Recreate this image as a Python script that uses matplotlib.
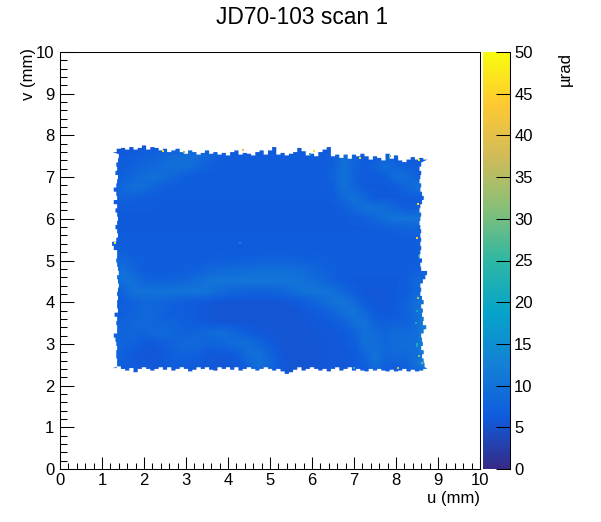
import numpy as np
import matplotlib
matplotlib.use('Agg')
import matplotlib.pyplot as plt
from matplotlib.colors import LinearSegmentedColormap
from matplotlib.patches import Polygon

plt.rcParams['font.family'] = ['Liberation Sans', 'DejaVu Sans']

# ROOT kBird palette
bird_colors = [(0.2082, 0.1664, 0.5293), (0.0592, 0.3599, 0.8684), (0.0780, 0.5041, 0.8385),
               (0.0232, 0.6419, 0.7914), (0.1802, 0.7178, 0.6425), (0.5301, 0.7492, 0.4662),
               (0.8186, 0.7328, 0.3499), (0.9956, 0.7862, 0.1968), (0.9764, 0.9832, 0.0539)]
bird = LinearSegmentedColormap.from_list('bird', bird_colors, N=255)

# Map values, in tenths of a urad
# rows run from v=7.75 down to v=2.25, columns from u=1.25 to u=8.75, 0.25 mm apart
scan_u = [1.25 + 0.25 * i for i in range(31)]
scan_v = [7.75 - 0.25 * i for i in range(23)]
scan_tenths = [
    [54, 54, 54, 54, 54, 54, 54, 56, 56, 56, 56, 56, 56, 56, 56, 56, 56, 56, 56, 56, 56, 56, 56, 56, 56, 56, 56, 56, 56, 56, 56],
    [60, 62, 68, 72, 76, 82, 90, 96, 94, 82, 68, 64, 64, 64, 64, 64, 64, 64, 64, 64, 64, 68, 94, 80, 66, 66, 66, 62, 60, 60, 60],
    [62, 68, 72, 78, 86, 92, 98, 96, 84, 74, 68, 65, 65, 65, 65, 65, 65, 65, 65, 65, 65, 72, 100, 78, 66, 76, 94, 78, 70, 66, 64],
    [62, 72, 82, 92, 98, 92, 80, 70, 66, 64, 64, 64, 64, 64, 64, 64, 64, 64, 64, 64, 64, 76, 100, 74, 64, 64, 70, 94, 90, 74, 66],
    [62, 84, 96, 92, 80, 70, 66, 64, 64, 64, 64, 64, 64, 64, 64, 64, 64, 64, 64, 64, 64, 70, 100, 80, 62, 62, 62, 66, 84, 96, 82],
    [62, 76, 72, 66, 64, 63, 63, 63, 63, 63, 63, 63, 63, 63, 63, 63, 63, 63, 63, 63, 63, 64, 84, 100, 80, 62, 62, 62, 62, 66, 66],
    [60, 64, 64, 63, 63, 62, 62, 62, 62, 62, 62, 62, 62, 62, 62, 62, 62, 62, 62, 62, 62, 62, 68, 86, 100, 100, 92, 78, 68, 68, 68],
    [60, 62, 62, 62, 62, 62, 62, 62, 62, 62, 62, 62, 62, 62, 62, 62, 62, 62, 62, 62, 62, 62, 62, 65, 72, 84, 98, 104, 104, 104, 90],
    [62, 62, 62, 62, 62, 62, 62, 62, 62, 62, 62, 62, 62, 62, 62, 62, 62, 62, 62, 62, 62, 62, 62, 62, 62, 65, 68, 72, 76, 78, 74],
    [64, 65, 65, 65, 65, 65, 65, 65, 65, 65, 65, 65, 65, 65, 65, 65, 65, 65, 65, 65, 65, 65, 65, 65, 65, 65, 65, 65, 66, 68, 68],
    [68, 68, 66, 66, 66, 66, 66, 66, 66, 66, 66, 66, 66, 66, 66, 66, 66, 66, 66, 66, 66, 66, 66, 66, 66, 66, 66, 66, 66, 68, 68],
    [78, 82, 72, 66, 66, 66, 66, 66, 66, 66, 68, 70, 70, 72, 74, 74, 74, 74, 72, 70, 68, 66, 66, 66, 66, 66, 66, 66, 66, 68, 68],
    [84, 100, 80, 68, 66, 66, 66, 68, 72, 80, 86, 90, 92, 94, 96, 98, 98, 96, 92, 84, 76, 70, 66, 65, 64, 64, 64, 64, 66, 70, 72],
    [68, 100, 98, 80, 74, 74, 78, 84, 92, 100, 104, 104, 106, 106, 106, 106, 106, 104, 100, 94, 84, 72, 66, 62, 62, 62, 62, 62, 66, 86, 80],
    [62, 78, 100, 104, 104, 104, 104, 104, 106, 102, 92, 84, 78, 76, 76, 76, 80, 90, 100, 104, 104, 98, 82, 66, 60, 60, 60, 62, 66, 84, 88],
    [60, 66, 76, 82, 82, 78, 72, 68, 64, 60, 57, 56, 56, 56, 56, 56, 57, 60, 66, 76, 90, 102, 104, 88, 64, 60, 60, 64, 76, 96, 104],
    [64, 68, 74, 84, 84, 72, 68, 66, 62, 58, 56, 56, 55, 55, 55, 55, 55, 56, 58, 62, 68, 78, 98, 104, 84, 64, 60, 64, 74, 96, 120],
    [70, 74, 80, 84, 82, 76, 76, 70, 64, 60, 58, 56, 56, 56, 56, 56, 56, 56, 56, 58, 60, 64, 74, 96, 100, 76, 68, 74, 74, 92, 130],
    [74, 76, 82, 76, 84, 90, 80, 74, 78, 88, 94, 90, 78, 66, 60, 58, 56, 56, 56, 56, 58, 60, 62, 74, 100, 90, 82, 92, 88, 96, 140],
    [76, 78, 72, 62, 62, 68, 78, 88, 88, 76, 80, 86, 96, 94, 78, 64, 57, 55, 55, 56, 58, 60, 62, 66, 98, 92, 84, 94, 94, 96, 150],
    [76, 72, 62, 57, 57, 62, 72, 76, 70, 62, 60, 60, 68, 94, 98, 76, 58, 55, 55, 55, 58, 58, 60, 62, 80, 102, 84, 88, 86, 96, 110],
    [68, 70, 64, 60, 60, 64, 70, 66, 62, 60, 57, 57, 60, 78, 100, 86, 62, 56, 56, 56, 58, 60, 60, 62, 70, 100, 72, 72, 76, 100, 130],
    [58, 58, 58, 58, 58, 58, 58, 58, 58, 58, 58, 58, 58, 58, 62, 62, 58, 56, 56, 56, 58, 58, 58, 58, 58, 62, 58, 58, 58, 62, 70],
]

# Outline of the scanned area, one reading per 0.1 mm
edge_u = [1.3 + 0.1 * i for i in range(75)]
edge_v = [2.4 + 0.1 * i for i in range(54)]
top_edge = [7.60, 7.68, 7.70, 7.66, 7.72, 7.66, 7.70, 7.76, 7.66, 7.72, 7.70, 7.64, 7.68, 7.60, 7.64, 7.68,
            7.60, 7.56, 7.64, 7.60, 7.54, 7.58, 7.64, 7.56, 7.60, 7.54, 7.58, 7.52, 7.60, 7.64, 7.54, 7.58,
            7.56, 7.52, 7.60, 7.64, 7.54, 7.64, 7.72, 7.54, 7.58, 7.52, 7.56, 7.60, 7.70, 7.62, 7.52, 7.56,
            7.50, 7.60, 7.66, 7.72, 7.50, 7.54, 7.46, 7.54, 7.44, 7.54, 7.50, 7.56, 7.50, 7.42, 7.50, 7.46,
            7.40, 7.56, 7.44, 7.52, 7.40, 7.36, 7.42, 7.48, 7.42, 7.46, 7.42]
bottom_edge = [2.42, 2.46, 2.40, 2.36, 2.42, 2.32, 2.40, 2.44, 2.40, 2.36, 2.40, 2.44, 2.38, 2.44, 2.36, 2.40,
               2.44, 2.40, 2.34, 2.38, 2.44, 2.40, 2.44, 2.38, 2.36, 2.44, 2.40, 2.44, 2.38, 2.44, 2.36, 2.40,
               2.44, 2.40, 2.36, 2.40, 2.44, 2.40, 2.36, 2.40, 2.34, 2.28, 2.32, 2.38, 2.44, 2.36, 2.40, 2.44,
               2.40, 2.36, 2.40, 2.34, 2.40, 2.44, 2.36, 2.40, 2.44, 2.36, 2.40, 2.36, 2.34, 2.40, 2.36, 2.40,
               2.36, 2.34, 2.38, 2.34, 2.36, 2.40, 2.34, 2.38, 2.34, 2.36, 2.40]
left_edge = [1.36, 1.36, 1.34, 1.34, 1.36, 1.34, 1.32, 1.28, 1.36, 1.36, 1.34, 1.36, 1.30, 1.38, 1.36,
             1.36, 1.38, 1.36, 1.38, 1.40, 1.38, 1.36, 1.40, 1.38, 1.36, 1.34, 1.36, 1.36, 1.28, 1.24, 1.34,
             1.38, 1.36, 1.32, 1.36, 1.38, 1.36, 1.32, 1.36, 1.28, 1.36, 1.34, 1.28, 1.34, 1.36, 1.38, 1.32,
             1.36, 1.34, 1.38, 1.40]
right_edge = [8.68, 8.66, 8.62, 8.66, 8.60, 8.64, 8.62, 8.60, 8.66, 8.72, 8.64, 8.66, 8.62, 8.64, 8.60,
              8.66, 8.62, 8.58, 8.60, 8.58, 8.64, 8.70, 8.74, 8.60, 8.58, 8.62, 8.56, 8.58, 8.60, 8.58, 8.60,
              8.58, 8.60, 8.58, 8.56, 8.58, 8.60, 8.56, 8.58, 8.62, 8.66, 8.62, 8.58, 8.60, 8.56, 8.58, 8.60,
              8.56, 8.60]

# Single noisy pixels that stand out from the map
hot_u = [2.45, 2.95, 1.32, 4.35, 5.95, 6.05, 7.15, 7.85, 8.55, 8.52, 8.50, 8.55, 8.62, 8.52, 8.50, 8.48, 8.50, 8.55, 8.50, 7.0, 8.05, 4.28]
hot_v = [7.62, 7.60, 5.42, 7.66, 7.55, 7.62, 7.45, 7.50, 7.42, 6.35, 5.55, 5.10, 2.55, 4.10, 3.80, 3.50, 3.00, 2.70, 2.95, 2.42, 2.42, 5.42]
hot_val = [46, 30, 48, 40, 25, 46, 44, 30, 48, 46, 44, 24, 28, 36, 20, 22, 22, 30, 20, 25, 38, 14]

# Axis and text values
axis_ticks = [0, 1, 2, 3, 4, 5, 6, 7, 8, 9, 10]
color_ticks = [0, 5, 10, 15, 20, 25, 30, 35, 40, 45, 50]

W, H = 601, 522


def pixel_axes(fig, left, top, right, bottom):
    return fig.add_axes([left / W, 1 - bottom / H, (right - left) / W, (bottom - top) / H])


def stairs(xs, ys):
    # turn edge readings into the blocky outline of the map cells
    out = []
    for i in range(len(xs)):
        out.append((xs[i] - 0.05, ys[i]))
        out.append((xs[i] + 0.05, ys[i]))
    return out


fig = plt.figure(figsize=(W / 100, H / 100), dpi=100)
ax = pixel_axes(fig, 60, 52, 480, 469)

values = np.array(scan_tenths) / 10
im = ax.imshow(values, cmap=bird, vmin=0, vmax=50, interpolation='bilinear', aspect='auto',
               extent=[scan_u[0] - 0.125, scan_u[-1] + 0.125, scan_v[-1] - 0.125, scan_v[0] + 0.125])

outline = stairs(edge_u, bottom_edge)
outline += [(x, y) for y, x in stairs(edge_v[1:len(right_edge) + 1], right_edge)]
outline += stairs(edge_u, top_edge)[::-1]
outline += [(x, y) for y, x in stairs(edge_v[1:len(left_edge) + 1], left_edge)][::-1]
clip = Polygon(outline, closed=True, transform=ax.transData, facecolor='none', edgecolor='none')
ax.add_patch(clip)
im.set_clip_path(clip)

ax.scatter(hot_u, hot_v, c=hot_val, cmap=bird, vmin=0, vmax=50, marker='s', s=2.2, linewidths=0, zorder=3)

ax.set_xlim(0, 10)
ax.set_ylim(0, 10)
ax.set_xticks(axis_ticks)
ax.set_yticks(axis_ticks)
ax.set_xticks(np.arange(0, 10.01, 0.2), minor=True)
ax.set_yticks(np.arange(0, 10.01, 0.2), minor=True)
ax.tick_params(axis='x', which='major', direction='in', length=8.6, width=0.75, labelsize=12, pad=3)
ax.tick_params(axis='x', which='minor', direction='in', length=4.3, width=0.75)
ax.tick_params(axis='y', which='major', direction='in', length=10, width=0.75, labelsize=12, pad=4)
ax.tick_params(axis='y', which='minor', direction='in', length=5.2, width=0.75)
for side in ax.spines.values():
    side.set_linewidth(0.75)

cax = pixel_axes(fig, 483, 52, 510, 469)
cb = fig.colorbar(im, cax=cax)
cb.outline.set_visible(False)
cb.set_ticks(color_ticks)
cax.minorticks_off()
cax.tick_params(axis='y', direction='in', length=10, width=0.75, labelsize=12, pad=3, right=True)
cax.spines['right'].set_visible(True)
cax.spines['right'].set_linewidth(0.75)

fig.text(302 / W, 1 - 17 / H, 'JD70-103 scan 1', ha='center', va='center', fontsize=16.4)
fig.text(480 / W, 1 - 498 / H, 'u (mm)', ha='right', va='center', fontsize=12)
fig.text(28 / W, 1 - 48 / H, 'v (mm)', ha='center', va='top', rotation=90, fontsize=12)
fig.text(565 / W, 1 - 52 / H, '\u00b5rad', ha='center', va='top', rotation=90, fontsize=12)

fig.savefig('out.png', dpi=100)
